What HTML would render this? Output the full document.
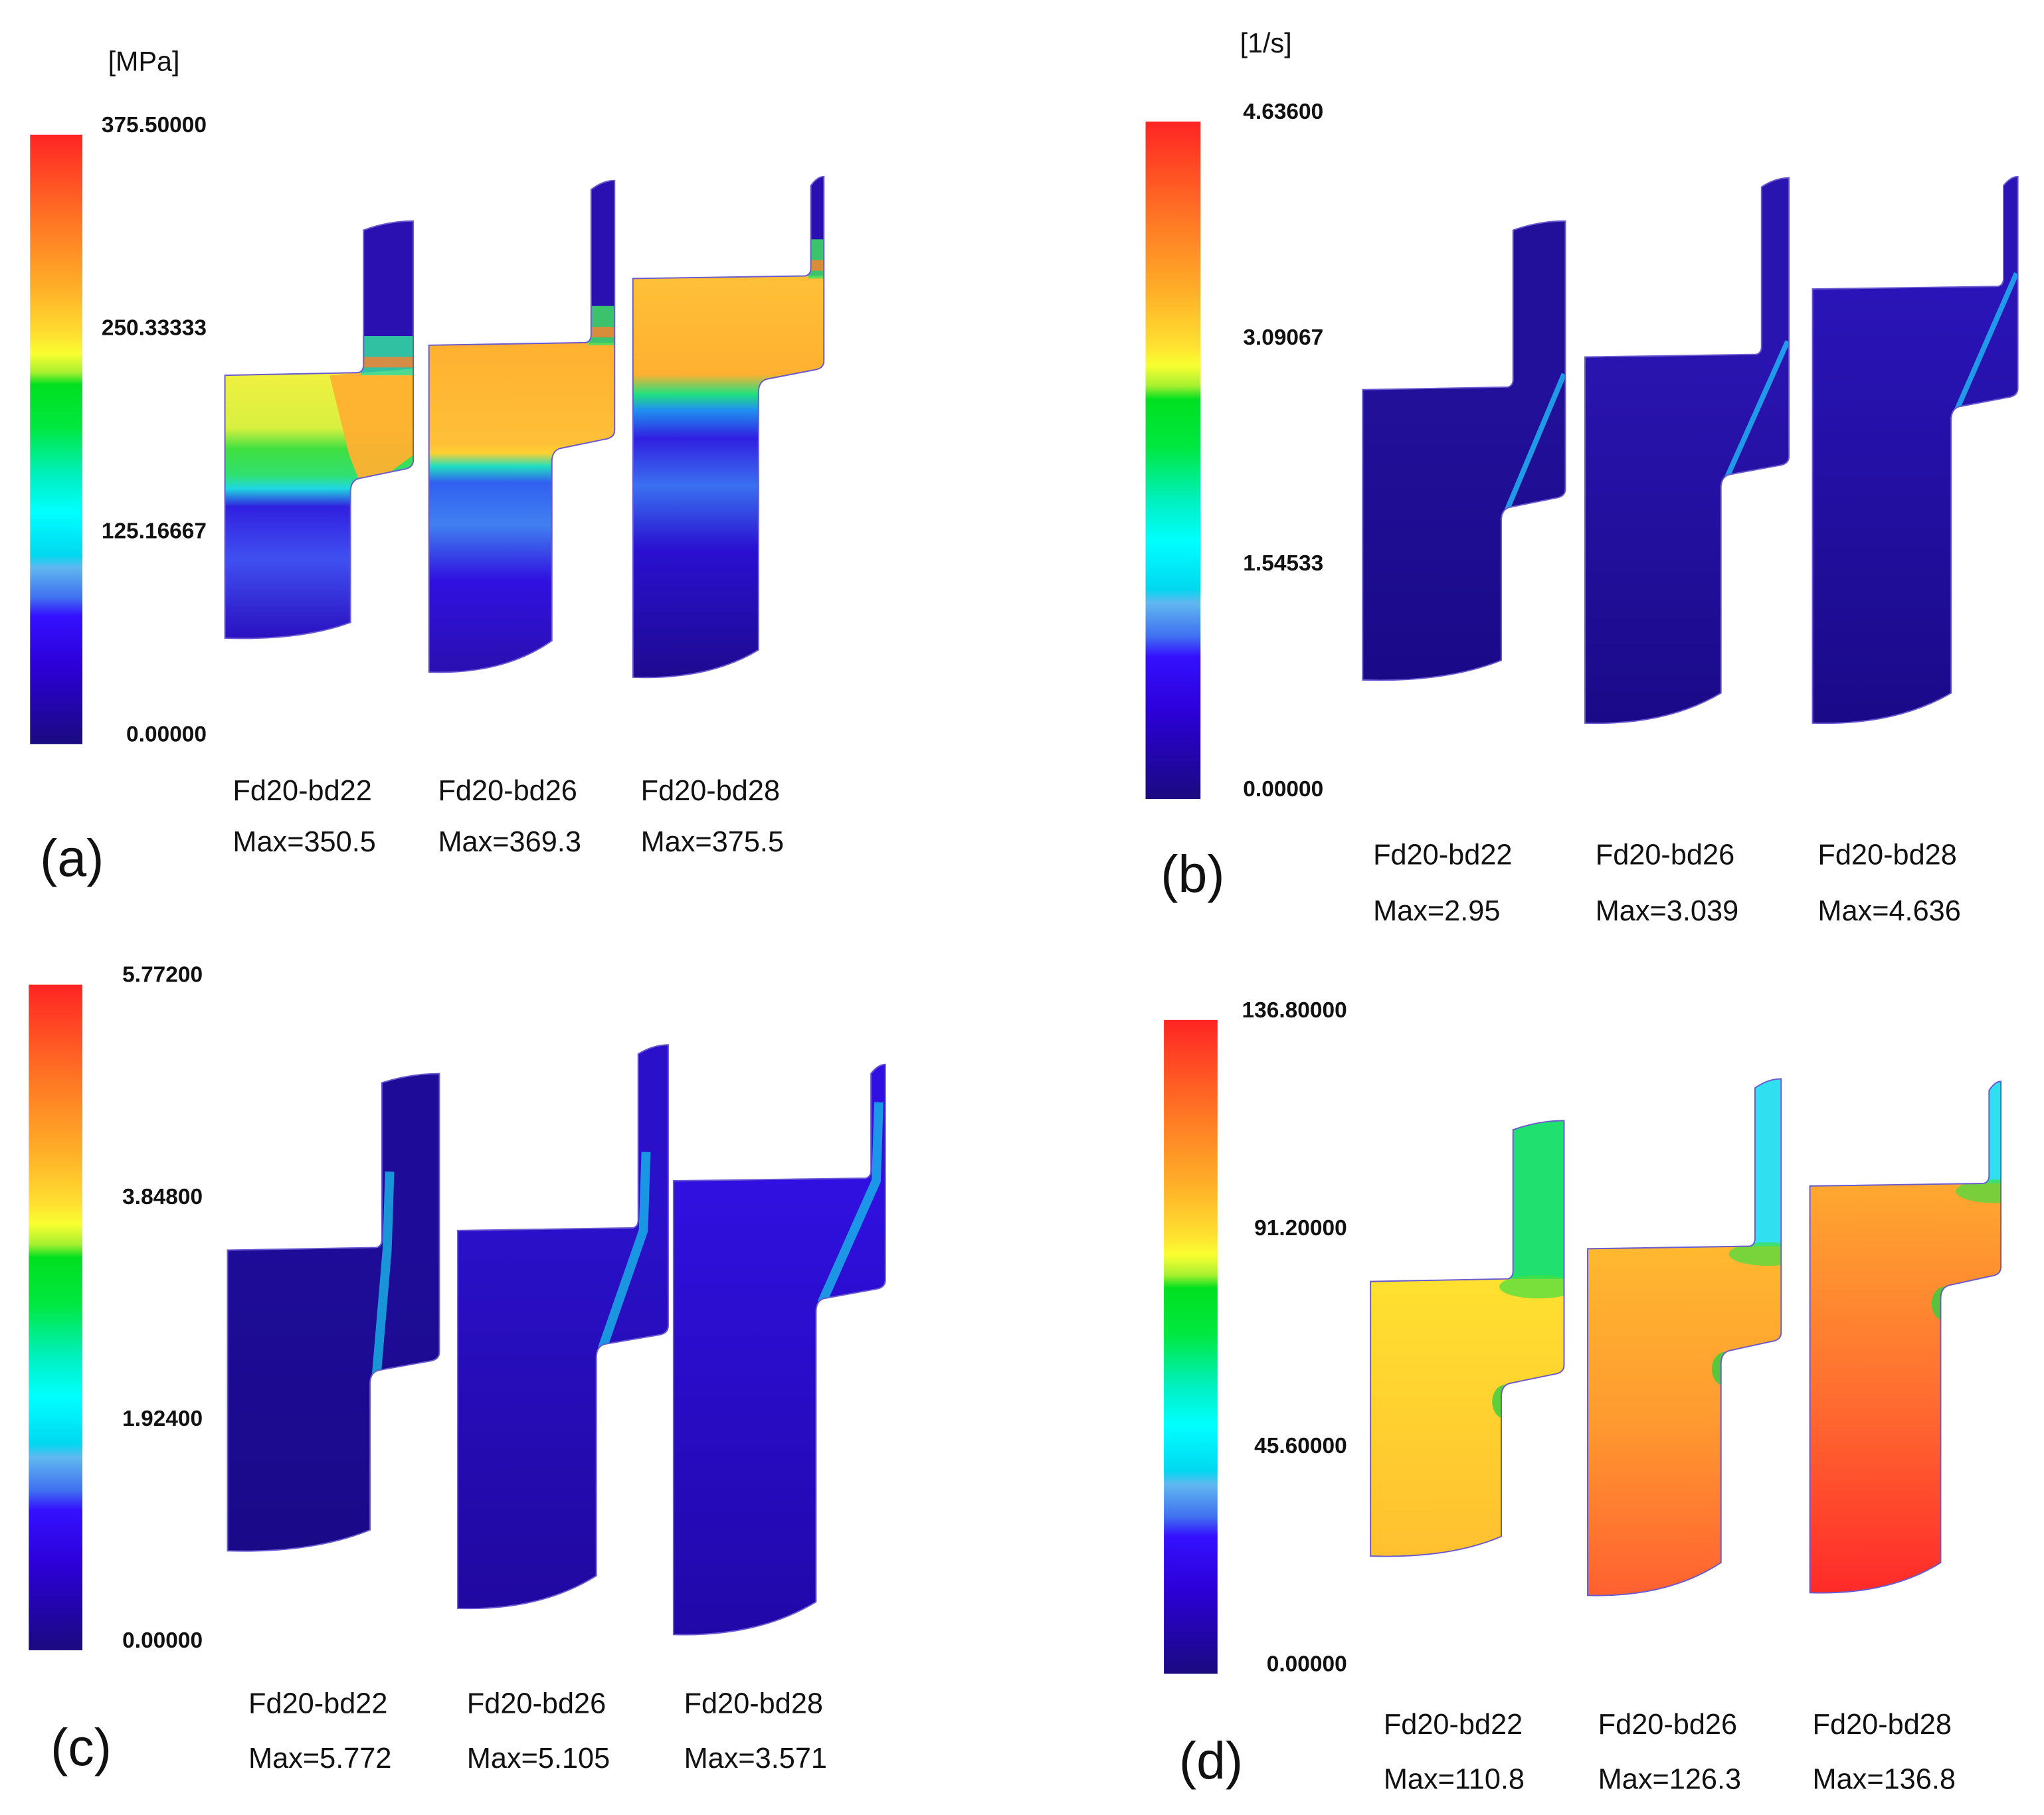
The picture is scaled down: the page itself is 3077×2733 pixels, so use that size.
<!DOCTYPE html>
<html><head><meta charset="utf-8"><style>
html,body{margin:0;padding:0;background:#fff}
svg{display:block}
text{font-family:"Liberation Sans",sans-serif}
</style></head><body>
<svg id="fig" width="3077" height="2733" viewBox="0 0 1563 1388" preserveAspectRatio="none" xmlns="http://www.w3.org/2000/svg">
<defs>
<linearGradient id="cbar" x1="0" y1="0" x2="0" y2="1">
<stop offset="0" stop-color="#ff2424"/><stop offset="0.15" stop-color="#ff7a24"/><stop offset="0.25" stop-color="#ffae28"/>
<stop offset="0.33" stop-color="#ffe030"/><stop offset="0.36" stop-color="#f8ff30"/><stop offset="0.39" stop-color="#a8f030"/>
<stop offset="0.41" stop-color="#00e020"/><stop offset="0.48" stop-color="#00e840"/><stop offset="0.56" stop-color="#00f0c0"/>
<stop offset="0.62" stop-color="#00ffff"/><stop offset="0.69" stop-color="#00d8f0"/><stop offset="0.71" stop-color="#60b8f0"/>
<stop offset="0.76" stop-color="#4070f0"/><stop offset="0.79" stop-color="#3410ff"/><stop offset="0.87" stop-color="#2c00d8"/>
<stop offset="1" stop-color="#1a0a80"/>
</linearGradient>
</defs>
<g id="root"></g>
</svg>
<script>
const NS='http://www.w3.org/2000/svg';
const root=document.getElementById('root');
const panelLetters=['(a)','(b)','(c)','(d)'];
const units=['[MPa]','[1/s]','',''];
const cbMax=[375.5,4.636,5.772,136.8];
const tickCount=[4,4,4,4];
const specimenNames=['Fd20-bd22','Fd20-bd26','Fd20-bd28'];
const maxA=['350.5','369.3','375.5'];
const maxB=['2.95','3.039','4.636'];
const maxC=['5.772','5.105','3.571'];
const maxD=['110.8','126.3','136.8'];
const maxVals=[maxA,maxB,maxC,maxD];

const L=[
 {cb:[23,103,63,569],tx:158,unit:[110,54],letter:[55,670],lab:[178,335,490],ly:[612,651],
  sp:[[172,268,278,316,287,368,170,488,476],[328,422,452,470,264,345,139,514,490],[484,580,620,630,213,292,136,518,497]]},
 {cb:[876,93,918,611],tx:1012,unit:[968,40],letter:[912,682],lab:[1050,1220,1390],ly:[661,704],
  sp:[[1042,1148,1157,1197,298,390,170,520,505],[1212,1316,1347,1368,273,365,137,553,530],[1386,1492,1532,1543,221,313,136,553,530]]},
 {cb:[22,753,63,1262],tx:155,unit:[0,0],letter:[62,1350],lab:[190,357,523],ly:[1310,1352],
  sp:[[174,283,292,336,956,1050,822,1186,1170],[350,456,488,511,941,1030,800,1230,1205],[515,624,666,677,903,995,815,1250,1225]]},
 {cb:[890,780,931,1280],tx:1030,unit:[0,0],letter:[926,1360],lab:[1058,1222,1386],ly:[1326,1368],
  sp:[[1048,1148,1157,1196,980,1060,858,1190,1175],[1214,1316,1342,1362,955,1035,826,1220,1195],[1384,1484,1521,1530,907,985,828,1218,1195]]}
];
const fills=[
 [[[0,'#f0f040'],[0.2,'#d8f040'],[0.28,'#40e040'],[0.38,'#30e070'],[0.43,'#20d8e0'],[0.5,'#3020e0'],[0.7,'#4050f0'],[1,'#2a10c0']],
  [[0,'#ffb030'],[0.3,'#ffc038'],[0.33,'#ffd030'],[0.37,'#20e0c0'],[0.42,'#3060f0'],[0.55,'#4080f0'],[0.72,'#3010e0'],[1,'#2a10b0']],
  [[0,'#ffc038'],[0.24,'#ffb030'],[0.29,'#20e080'],[0.33,'#2090f0'],[0.4,'#3020e0'],[0.52,'#3a70f0'],[0.68,'#2a10d0'],[1,'#1e0a90']]],
 [[[0,'#22109a'],[1,'#1a0a88']],[[0,'#2a14b0'],[1,'#1a0a88']],[[0,'#2a14b8'],[1,'#1a0a88']]],
 [[[0,'#1e0c98'],[1,'#1a0a88']],[[0,'#2a10c8'],[1,'#2008a0']],[[0,'#3010e0'],[1,'#2008a8']]],
 [[[0,'#ffe030'],[1,'#ffc030']],[[0,'#ffb830'],[0.5,'#ff9a30'],[1,'#ff6030']],[[0,'#ffa830'],[0.5,'#ff7030'],[1,'#ff2a2a']]]
];
const tabColor=[['#2a10b0','#2a10b0','#2a10b0'],['#22109a','#2a14b0','#2a14b8'],['#1e0c98','#2a10c8','#3010e0'],['#20e070','#30e0f0','#30e0f0']];
function el(tag,attrs,parent){const e=document.createElementNS(NS,tag);for(const k in attrs)e.setAttribute(k,attrs[k]);(parent||root).appendChild(e);return e;}
function shapePath(p){const [x0,xs,xt,xr,yT,yS,yTT,yBL,yBR]=p;
 return `M${x0},${yT} L${xt-4},${yT-2} Q${xt},${yT-3} ${xt},${yT-8} L${xt},${yTT+6} Q${(xt+xr)/2},${yTT-1} ${xr},${yTT-1} L${xr},${yS-16} Q${xr},${yS-10} ${xr-8},${yS-9} L${xs+6},${yS-2} Q${xs},${yS} ${xs},${yS+8} L${xs},${yBR} Q${(x0+xs)/2+10},${yBL+2} ${x0},${yBL} Z`;}
const defs=document.querySelector('defs');
L.forEach((P,pi)=>{
 const g=el('g',{});
 
 
 const [cx0,cy0,cx1,cy1]=P.cb;
 const cb=el('rect',{x:cx0,y:cy0,width:cx1-cx0,height:cy1-cy0,fill:'url(#cbar)'},g);
 
 
 const n=tickCount[pi];
 for(let i=0;i<n;i++){
  const v=cbMax[pi]*(n-1-i)/(n-1);
  const y=cy0+(cy1-cy0)*i/(n-1);
  const t=el('text',{x:P.tx,y:y-2,'text-anchor':'end','font-size':17,'font-weight':'bold',fill:'#111'},g);
  t.textContent=v.toFixed(5);
  
  
 }
 if(units[pi]){const u=el('text',{x:P.unit[0],y:P.unit[1],'text-anchor':'middle','font-size':21,fill:'#111'},g);u.textContent=units[pi];
  
  }
 P.sp.forEach((s,si)=>{
  const [x0,xs,xt,xr,yT,yS,yTT,yBL]=s;
  const gid='g'+pi+'_'+si, cid='c'+pi+'_'+si;
  const lg=el('linearGradient',{id:gid,gradientUnits:'userSpaceOnUse',x1:0,y1:yT,x2:0,y2:yBL},defs);
  fills[pi][si].forEach(st=>el('stop',{offset:st[0],'stop-color':st[1]},lg));
  const d=shapePath(s);
  const cp=el('clipPath',{id:cid},defs); el('path',{d:d},cp);
  const sg=el('g',{'clip-path':`url(#${cid})`},g);
  el('rect',{x:x0-5,y:yTT-10,width:xr-x0+10,height:yBL-yTT+20,fill:`url(#${gid})`},sg);
  el('rect',{x:xt-2,y:yTT-10,width:xr-xt+12,height:yT-yTT+8,fill:tabColor[pi][si]},sg);
  if(pi===0){
   if(si===0){
    // orange diagonal region in bd22
    el('path',{d:`M${x0+80},${yT} L${xr},${yT-5} L${xr},${yS-20} L${xs+10},${yS+8} L${x0+95},${yS-20} Z`,fill:'#ffb030',opacity:0.95},sg);
   }
   el('rect',{x:xt-2,y:yT-30,width:xr-xt+12,height:30,fill:si===0?'#30e0a0':'#40e060',opacity:0.85},sg);
   el('rect',{x:xt-2,y:yT-14,width:xr-xt+12,height:8,fill:'#ff8030',opacity:0.8},sg);
  }
  if(pi===1){
   const ln=el('path',{d:`M${xs+1},${yS+8} L${xr-1},${yT-12}`,stroke:'#20a8f0','stroke-width':4,fill:'none',opacity:0.9},sg);
   
   
  }
  if(pi===2){
   const ln=el('path',{d:`M${xs+3},${yS+(yBL-yS)*0.55} L${xs+5},${yS} L${xt+4},${yT} L${xt+6},${yT-60}`,stroke:'#18b8e8','stroke-width':7,fill:'none',opacity:0.8},sg);
   
   
  }
  if(pi===3){
   el('ellipse',{cx:xs+3,cy:yS+12,rx:10,ry:13,fill:'#30d040',opacity:0.8},sg);
   el('ellipse',{cx:(xt+xr)/2,cy:yT+4,rx:30,ry:9,fill:'#40e040',opacity:0.7},sg);
  }
  const p=el('path',{d:d,fill:'none',stroke:'#6a5ad0','stroke-width':1},g);
  
  
  const t1=el('text',{x:P.lab[si],y:P.ly[0],'font-size':22,fill:'#111'},g);t1.textContent=specimenNames[si];
  
  
  const t2=el('text',{x:P.lab[si],y:P.ly[1],'font-size':22,fill:'#111'},g);t2.textContent='Max='+maxVals[pi][si];
  
  
 });
 const lt=el('text',{x:P.letter[0],y:P.letter[1],'text-anchor':'middle','font-size':40,fill:'#111'},g);lt.textContent=panelLetters[pi];
 
 
});
</script>
</body></html>
